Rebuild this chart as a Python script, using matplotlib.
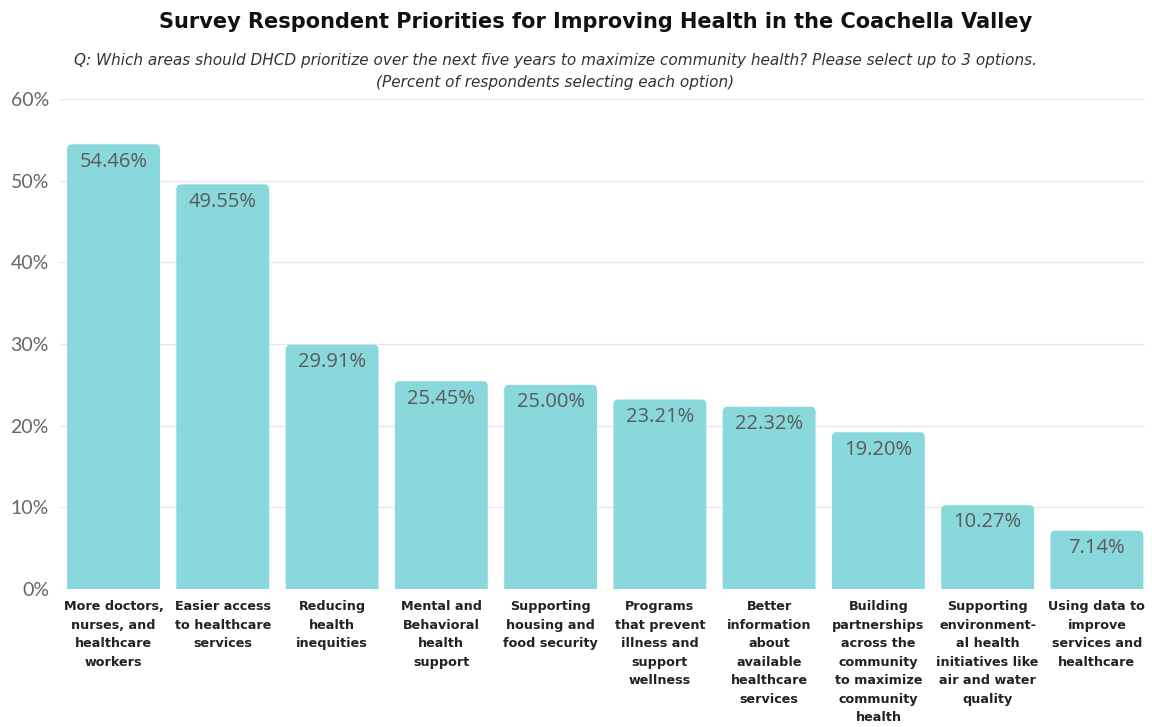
import matplotlib.pyplot as plt
from matplotlib.patches import FancyBboxPatch

categories = [
    "More doctors,\nnurses, and\nhealthcare\nworkers",
    "Easier access\nto healthcare\nservices",
    "Reducing\nhealth\ninequities",
    "Mental and\nBehavioral\nhealth\nsupport",
    "Supporting\nhousing and\nfood security",
    "Programs\nthat prevent\nillness and\nsupport\nwellness",
    "Better\ninformation\nabout\navailable\nhealthcare\nservices",
    "Building\npartnerships\nacross the\ncommunity\nto maximize\ncommunity\nhealth",
    "Supporting\nenvironment-\nal health\ninitiatives like\nair and water\nquality",
    "Using data to\nimprove\nservices and\nhealthcare",
]
values = [54.46, 49.55, 29.91, 25.45, 25.00, 23.21, 22.32, 19.20, 10.27, 7.14]
yticks = [0, 10, 20, 30, 40, 50, 60]

bar_color = "#89d8dc"

fig = plt.figure(figsize=(11.52, 7.27), dpi=100)
ax = fig.add_axes([60 / 1152, 1 - 589 / 727, 1085 / 1152, 490 / 727])

ax.set_xlim(-0.49, 9.44)
ax.set_ylim(0, 60)

# px -> data unit ratio for rounded tops
x_per_px = 9.93 / 1085
y_per_px = 60 / 490
width = 0.85
for i, v in enumerate(values):
    p = FancyBboxPatch((i - width / 2, -3), width, v + 3,
                       boxstyle="round,pad=0,rounding_size=%f" % (5 * x_per_px),
                       mutation_aspect=y_per_px / x_per_px,
                       fc=bar_color, ec="none", zorder=2, clip_on=True)
    ax.add_patch(p)
    ax.text(i, v - 0.9, "%.2f%%" % v, ha="center", va="top",
            fontsize=14.5, color="#5a5a5a", family="Open Sans", zorder=3)

ax.set_yticks(yticks)
ax.set_yticklabels(["%d%%" % t for t in yticks], fontsize=14,
                   color="#666666", family="Lato")
ax.grid(axis="y", color="#e6e6e6", linewidth=1, zorder=0)
ax.tick_params(axis="y", length=0, pad=8)
ax.set_xticks(range(len(values)))
ax.set_xticklabels(categories, fontsize=9.2, fontweight="bold",
                   color="#222222", family="DejaVu Sans", linespacing=1.55,
                   va="top")
ax.tick_params(axis="x", length=0, pad=8)
for s in ax.spines.values():
    s.set_visible(False)

fig.text(596 / 1152, 1 - 22 / 727, "Survey Respondent Priorities for Improving Health in the Coachella Valley",
         ha="center", va="center", fontsize=15, fontweight="bold", color="#111111")
fig.text(555 / 1152, 1 - 60 / 727,
         "Q: Which areas should DHCD prioritize over the next five years to maximize community health? Please select up to 3 options.",
         ha="center", va="center", fontsize=11, style="italic", color="#333333")
fig.text(555 / 1152, 1 - 82 / 727, "(Percent of respondents selecting each option)",
         ha="center", va="center", fontsize=11, style="italic", color="#333333")

fig.savefig("out.png", dpi=100)
